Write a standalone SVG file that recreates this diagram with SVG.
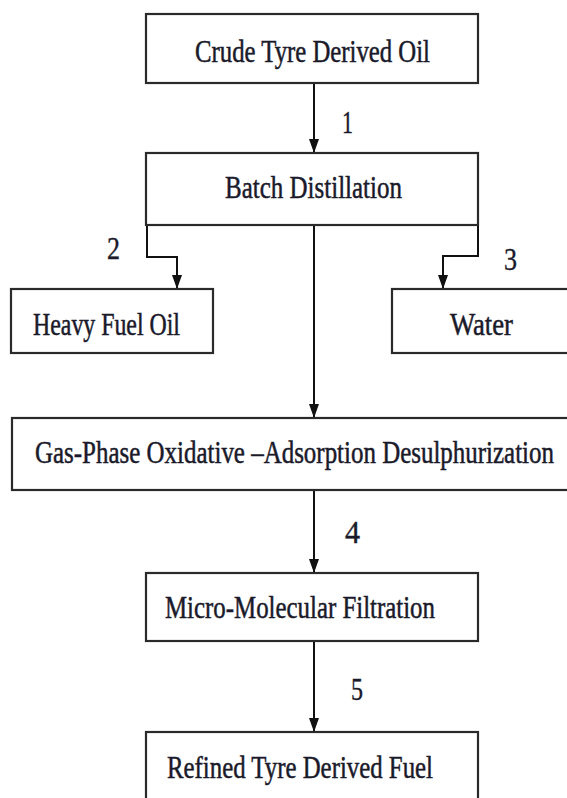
<svg xmlns="http://www.w3.org/2000/svg" width="567" height="798" viewBox="0 0 567 798">
  <style>
    .box { fill: #ffffff; stroke: #2a2a2a; stroke-width: 2.2; }
    .lbl { font-family: 'Liberation Serif', 'DejaVu Serif', serif; font-size: 31px; fill: #1a1a2a; stroke: #1a1a2a; stroke-width: 0.5; }
    .num { font-family: 'Liberation Serif', 'DejaVu Serif', serif; font-size: 31px; fill: #1a1a2a; stroke: #1a1a2a; stroke-width: 0.4; }
    .conn { fill: none; stroke: #111111; stroke-width: 2; }
  </style>
  <defs>
    <marker id="arrow" viewBox="0 0 14 10" markerWidth="14" markerHeight="10" refX="14" refY="5" orient="auto" markerUnits="userSpaceOnUse">
      <path d="M0,0 L14,5 L0,10 z" fill="#111111"/>
    </marker>
  </defs>
  <rect width="567" height="798" fill="#ffffff"/>

  <g id="connectors">
    <line class="conn" x1="314" y1="83" x2="314" y2="153" marker-end="url(#arrow)"/>
    <polyline class="conn" points="147,225 147,257 177,257 177,289" marker-end="url(#arrow)"/>
    <polyline class="conn" points="478,225 478,256 443,256 443,289" marker-end="url(#arrow)"/>
    <line class="conn" x1="314" y1="225" x2="314" y2="418" marker-end="url(#arrow)"/>
    <line class="conn" x1="314" y1="490" x2="314" y2="573" marker-end="url(#arrow)"/>
    <line class="conn" x1="314" y1="641" x2="314" y2="732" marker-end="url(#arrow)"/>
    <text class="num" x="342" y="133" textLength="11" lengthAdjust="spacingAndGlyphs">1</text>
    <text class="num" x="107" y="259" textLength="13" lengthAdjust="spacingAndGlyphs">2</text>
    <text class="num" x="504" y="270" textLength="13" lengthAdjust="spacingAndGlyphs">3</text>
    <text class="num" x="345" y="543" textLength="15" lengthAdjust="spacingAndGlyphs">4</text>
    <text class="num" x="351" y="700" textLength="12" lengthAdjust="spacingAndGlyphs">5</text>
  </g>

  <g id="crude">
    <rect class="box" x="146" y="14" width="332" height="69"/>
    <text class="lbl" x="195" y="62" textLength="235" lengthAdjust="spacingAndGlyphs">Crude Tyre Derived Oil</text>
  </g>
  <g id="batch">
    <rect class="box" x="146" y="153" width="332" height="72"/>
    <text class="lbl" x="225" y="198" textLength="177" lengthAdjust="spacingAndGlyphs">Batch Distillation</text>
  </g>
  <g id="heavy">
    <rect class="box" x="11" y="289" width="202" height="64"/>
    <text class="lbl" x="33" y="335" textLength="147" lengthAdjust="spacingAndGlyphs">Heavy Fuel Oil</text>
  </g>
  <g id="water">
    <rect class="box" x="392" y="289" width="180" height="64"/>
    <text class="lbl" x="450" y="335" textLength="63" lengthAdjust="spacingAndGlyphs">Water</text>
  </g>
  <g id="gas">
    <rect class="box" x="12" y="418" width="560" height="72"/>
    <text class="lbl" x="35" y="463" textLength="519" lengthAdjust="spacingAndGlyphs">Gas-Phase Oxidative –Adsorption Desulphurization</text>
  </g>
  <g id="micro">
    <rect class="box" x="146" y="573" width="332" height="68"/>
    <text class="lbl" x="165" y="618" textLength="270" lengthAdjust="spacingAndGlyphs">Micro-Molecular Filtration</text>
  </g>
  <g id="refined">
    <rect class="box" x="146" y="732" width="332" height="80"/>
    <text class="lbl" x="167" y="778" textLength="266" lengthAdjust="spacingAndGlyphs">Refined Tyre Derived Fuel</text>
  </g>
</svg>
